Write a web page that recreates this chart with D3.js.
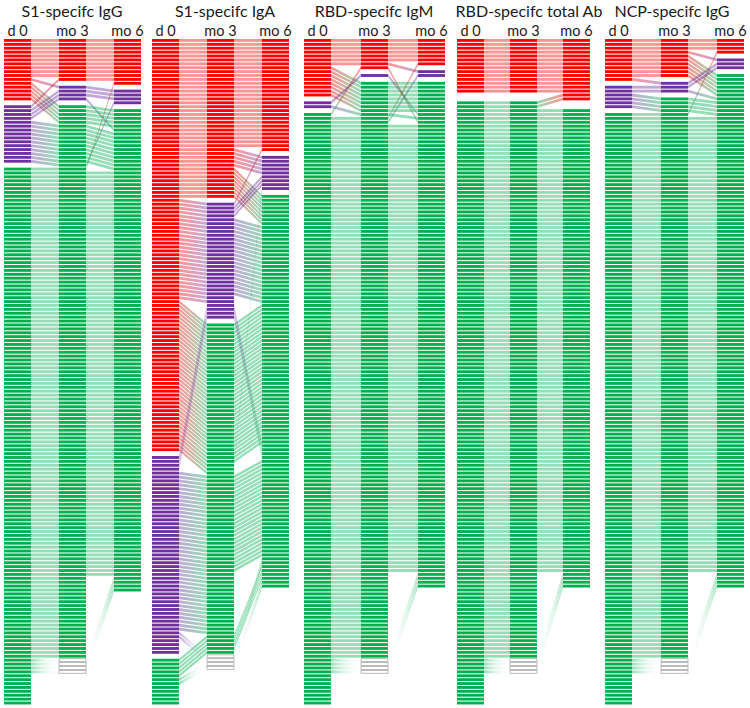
<!DOCTYPE html>
<html>
<head>
<meta charset="utf-8">
<script src="https://cdn.jsdelivr.net/npm/d3@7"></script>
<style>
  body { margin: 0; background: #fff; }
  text { font-family: Lato, "Open Sans", sans-serif; fill: #1a1a1a; }
</style>
</head>
<body>
<svg id="chart"></svg>
<script>
// panel titles and time points
const titles = ["S1-specifc IgG", "S1-specifc IgA", "RBD-specifc IgM", "RBD-specifc total Ab", "NCP-specifc IgG"];
const timepoints = ["d 0", "mo 3", "mo 6"];
// R = red, P = purple, G = green, E = sample missing (empty box), "-" = not followed up
const categories = ["R", "P", "G"];

// trajectories per panel: [d 0, mo 3, mo 6, number of subjects]
const s1IgG = [
  ["R", "R", "R", 10], ["R", "P", "P", 1], ["R", "G", "G", 5],
  ["P", "R", "R", 1], ["P", "P", "P", 2], ["P", "P", "G", 1], ["P", "G", "G", 10], ["P", "G", "P", 1],
  ["G", "G", "R", 1], ["G", "G", "G", 104], ["G", "G", "-", 21], ["G", "E", "G", 4], ["G", "-", "-", 8]
];
const s1IgA = [
  ["R", "R", "R", 28], ["R", "R", "P", 5], ["R", "R", "G", 8],
  ["R", "P", "R", 1], ["R", "P", "P", 3], ["R", "P", "G", 20], ["R", "P", "-", 2],
  ["R", "G", "G", 36], ["R", "G", "P", 1], ["R", "G", "-", 2],
  ["P", "P", "G", 4], ["P", "G", "G", 25], ["P", "G", "-", 16], ["P", "E", "G", 2], ["P", "-", "-", 4],
  ["G", "G", "G", 4], ["G", "G", "-", 1], ["G", "E", "G", 2], ["G", "-", "-", 5]
];
const rbdIgM = [
  ["R", "R", "R", 6], ["R", "R", "P", 1], ["R", "G", "G", 8],
  ["P", "P", "G", 1], ["P", "G", "G", 1],
  ["G", "R", "G", 1], ["G", "G", "R", 1], ["G", "G", "P", 1], ["G", "G", "G", 115],
  ["G", "G", "-", 22], ["G", "E", "G", 4], ["G", "-", "-", 8]
];
const rbdTotal = [
  ["R", "R", "R", 14],
  ["G", "G", "R", 2], ["G", "G", "G", 119], ["G", "G", "-", 22], ["G", "E", "G", 4], ["G", "-", "-", 8]
];
const ncpIgG = [
  ["R", "R", "R", 3], ["R", "R", "P", 1], ["R", "R", "G", 6], ["R", "P", "P", 1],
  ["P", "P", "P", 1], ["P", "P", "G", 1], ["P", "G", "G", 4],
  ["G", "G", "R", 1], ["G", "G", "G", 117], ["G", "G", "-", 22], ["G", "E", "G", 4], ["G", "-", "-", 8]
];
const panels = [s1IgG, s1IgA, rbdIgM, rbdTotal, ncpIgG];

const width = 750, height = 708;
const panelLeft = [4, 152, 304, 457, 605];
const colGap = [55, 55, 57, 53, 56];
const titleX = [72, 225, 374, 529, 672];
const colW = 27;
const barH = 2.85;

const colour = d3.scaleOrdinal().domain(["R", "P", "G", "E"]).range(["#ff0000", "#7030a0", "#00b050", "#ffffff"]);
const y = d3.scaleLinear().domain([0, 171]).range([39, 705.5]);

const svg = d3.select("#chart").attr("width", width).attr("height", height);
svg.append("rect").attr("width", width).attr("height", height).attr("fill", "#fff");

// gradients for every colour pair
const defs = svg.append("defs");
["R", "P", "G", "E"].forEach(a => {
  ["R", "P", "G", "E"].forEach(b => {
    const g = defs.append("linearGradient").attr("id", `g${a}${b}`)
      .attr("x1", 0).attr("x2", 1).attr("y1", 0).attr("y2", 0);
    g.append("stop").attr("offset", "0%").attr("stop-color", colour(a))
      .attr("stop-opacity", a === "E" ? 0 : 0.42);
    g.append("stop").attr("offset", "100%").attr("stop-color", colour(b))
      .attr("stop-opacity", b === "E" ? 0 : 0.42);
  });
});

// put every subject of a column on a row: red, gap, purple, gap, green, then empty boxes
function layout(traj) {
  const people = [];
  traj.forEach(t => { for (let i = 0; i < t[3]; i++) people.push({ id: people.length, cat: t.slice(0, 3), slot: [] }); });
  for (let c = 0; c < 3; c++) {
    let slot = 0;
    categories.forEach((k, ki) => {
      people.filter(p => p.cat[c] === k).forEach(p => { p.slot[c] = slot++; });
      if (ki < 2) slot++;
    });
    people.filter(p => p.cat[c] === "E").forEach(p => { p.slot[c] = slot++; });
  }
  return people;
}

panels.forEach((traj, pi) => {
  const people = layout(traj);
  const x = d3.scalePoint().domain(timepoints).range([panelLeft[pi], panelLeft[pi] + 2 * colGap[pi]]);
  const g = svg.append("g");

  // connecting bands
  const links = [];
  people.forEach(p => {
    for (let c = 0; c < 2; c++) {
      if (p.cat[c] !== "-" && p.cat[c + 1] !== "-") links.push({ a: p.cat[c], b: p.cat[c + 1], c, ya: y(p.slot[c]), yb: y(p.slot[c + 1]) });
    }
  });
  g.selectAll("path.link").data(links).join("path")
    .attr("class", "link")
    .attr("d", d => {
      const x1 = x(timepoints[d.c]) + colW, x2 = x(timepoints[d.c + 1]);
      return `M${x1},${d.ya}L${x2},${d.yb}L${x2},${d.yb + barH}L${x1},${d.ya + barH}Z`;
    })
    .attr("fill", d => `url(#g${d.a}${d.b})`);

  // stripes
  const cells = [];
  people.forEach(p => { for (let c = 0; c < 3; c++) if (p.cat[c] !== "-") cells.push({ c, k: p.cat[c], s: p.slot[c] }); });
  g.selectAll("rect.cell").data(cells).join("rect")
    .attr("class", "cell")
    .attr("x", d => x(timepoints[d.c]))
    .attr("y", d => y(d.s))
    .attr("width", colW)
    .attr("height", barH)
    .attr("fill", d => d.k === "E" ? "#fff" : colour(d.k))
    .attr("stroke", d => d.k === "E" ? "#aaa" : "none")
    .attr("stroke-width", 0.8);

  // column labels
  g.selectAll("text.tp").data(timepoints).join("text")
    .attr("class", "tp")
    .attr("x", d => x(d) + colW / 2)
    .attr("y", 36)
    .attr("text-anchor", "middle")
    .attr("font-size", 14.5)
    .text(d => d);

  // panel title
  g.append("text")
    .attr("x", titleX[pi])
    .attr("y", 17)
    .attr("text-anchor", "middle")
    .attr("font-size", 16)
    .text(titles[pi]);
});
</script>
</body>
</html>
